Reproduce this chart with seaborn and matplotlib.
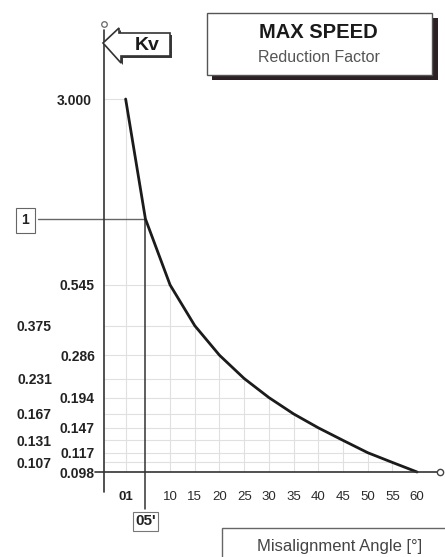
import numpy as np
import pandas as pd
import matplotlib
matplotlib.use("Agg")
import matplotlib.pyplot as plt
import seaborn as sns
from matplotlib.patches import Rectangle, Polygon
from matplotlib.ticker import NullLocator

# ---------------- data ----------------
angles = [1, 5, 10, 15, 20, 25, 30, 35, 40, 45, 50, 55, 60]
kv = [3.000, 1.000, 0.545, 0.375, 0.286, 0.231, 0.194, 0.167, 0.147, 0.131, 0.117, 0.107, 0.098]
x_tick_labels = ["01", "05'", "10", "15", "20", "25", "30", "35", "40", "45", "50", "55", "60"]
y_tick_labels = ["3.000", "1", "0.545", "0.375", "0.286", "0.231", "0.194", "0.167",
                 "0.147", "0.131", "0.117", "0.107", "0.098"]
ref_angle = 5
ref_kv = 1.0

title = "MAX SPEED"
subtitle = "Reduction Factor"
y_name = "Kv"
x_name = "Misalignment Angle [°]"

# ---------------- style ----------------
sns.set_style("white")
plt.rcParams["font.family"] = ["Liberation Sans", "DejaVu Sans"]

W, H = 445, 557
fig = plt.figure(figsize=(W / 100, H / 100), dpi=100)
fig.patch.set_facecolor("white")


def fx(px):
    return px / W


def fy(py):
    return 1 - py / H


ax_l, ax_r, ax_b, ax_t = 104, 440, 472, 30
ax = fig.add_axes([fx(ax_l), fy(ax_b), (ax_r - ax_l) / W, (ax_b - ax_t) / H])
ax.set_facecolor("none")
ax.set_yscale("log")
ax.set_xlim(-3.38, 64.64)
ax.set_ylim(0.098, 5.65)
for s in ax.spines.values():
    s.set_visible(False)

xl0, xl1 = ax.get_xlim()
yl0, yl1 = ax.get_ylim()
ax_w_px = ax_r - ax_l
ax_h_px = ax_b - ax_t

# faint drop grid under the curve
grid_col = "#e0e0e0"
ax.vlines([a for a in angles if a != ref_angle], yl0,
          [k for a, k in zip(angles, kv) if a != ref_angle],
          color=grid_col, lw=0.8, zorder=0)
ax.hlines([k for a, k in zip(angles, kv) if a != ref_angle], xl0,
          [a for a in angles if a != ref_angle],
          color=grid_col, lw=0.8, zorder=0)

# curve
df = pd.DataFrame({"angle": angles, "kv": kv})
sns.lineplot(data=df, x="angle", y="kv", ax=ax, color="#1b1b1b", lw=2.0,
             clip_on=False, zorder=5)

# reference lines at Kv = 1
x_left = xl0 - (ax_l - 38) / ax_w_px * (xl1 - xl0)
ax.plot([x_left, ref_angle], [ref_kv, ref_kv], color="#666666", lw=1.0,
        clip_on=False, zorder=4)
y_bottom = yl0 * (yl1 / yl0) ** (-(509 - ax_b) / ax_h_px)
ax.plot([ref_angle, ref_angle], [ref_kv, y_bottom], color="#333333", lw=1.1,
        clip_on=False, zorder=4)

# axis lines
ax.plot([-9 / ax_w_px, 1], [0, 0], transform=ax.transAxes, color="#333333",
        lw=1.2, clip_on=False, zorder=6)
ax.plot([0, 0], [-20 / ax_h_px, 1], transform=ax.transAxes, color="#333333",
        lw=1.2, clip_on=False, zorder=6)
ax.plot([1], [0], "o", transform=ax.transAxes, mfc="white", mec="#444444",
        ms=4.5, mew=1.0, clip_on=False, zorder=7)
ax.plot([0], [1 + 6 / ax_h_px], "o", transform=ax.transAxes, mfc="white",
        mec="#666666", ms=4, mew=0.9, clip_on=False, zorder=7)

# x ticks
ax.set_xticks(angles)
ax.set_xticklabels(x_tick_labels)
ax.tick_params(axis="x", length=0, pad=14, labelsize=9.5, labelcolor="#2a2a2a")
xt = ax.xaxis.get_major_ticks()
xt[0].label1.set_fontweight("bold")
xt[0].label1.set_fontsize(9.5)
xt[0].label1.set_color("#222222")
xt[1].set_pad(30.5)
xt[1].label1.set_fontweight("bold")
xt[1].label1.set_fontsize(11)
xt[1].label1.set_color("#222222")
xt[1].label1.set_bbox(dict(boxstyle="square,pad=0.15", fc="white",
                           ec="#777777", lw=0.8))

# y ticks
ax.set_yticks(kv)
ax.set_yticklabels(y_tick_labels)
ax.yaxis.set_minor_locator(NullLocator())
ax.tick_params(axis="y", which="both", length=0, labelsize=10,
               labelcolor="#222222")
yt = ax.yaxis.get_major_ticks()
for i, t in enumerate(yt):
    t.label1.set_fontweight("bold")
    if i == 0:
        t.set_pad(8.5)
    elif i == 1:
        t.set_pad(54)
        t.label1.set_bbox(dict(boxstyle="square,pad=0.4", fc="white",
                               ec="#666666", lw=0.8))
    elif i % 2 == 0:
        t.set_pad(6.5)
    else:
        t.set_pad(37.5)

ax.set_xlabel("")
ax.set_ylabel("")

# ---------------- title box ----------------
fig.add_artist(Rectangle((fx(212), fy(80)), 226 / W, 62 / H,
                         transform=fig.transFigure, fc="#2b2024", ec="none",
                         zorder=1))
fig.add_artist(Rectangle((fx(207), fy(75)), 225 / W, 62 / H,
                         transform=fig.transFigure, fc="white", ec="#555555",
                         lw=1.0, zorder=2))
fig.text(fx(318), fy(33), title, ha="center", va="center", fontsize=14.5,
         fontweight="bold", color="#1a1a1a", zorder=3)
fig.text(fx(319), fy(58), subtitle, ha="center", va="center", fontsize=11.5,
         color="#555555", zorder=3)

# ---------------- Kv arrow ----------------
arrow_pts = [(103, 43), (119, 28), (119, 33), (170, 33), (170, 56), (121, 56), (121, 63)]
shadow = Polygon([(fx(x + 2), fy(y + 2)) for x, y in arrow_pts], closed=True,
                 transform=fig.transFigure, fc="#3a3a3a", ec="none", zorder=1)
fig.add_artist(shadow)
arrow = Polygon([(fx(x), fy(y)) for x, y in arrow_pts], closed=True,
                transform=fig.transFigure, fc="white", ec="#333333", lw=1.2,
                zorder=2)
fig.add_artist(arrow)
fig.text(fx(147), fy(45), y_name, ha="center", va="center", fontsize=14,
         fontweight="bold", color="#1a1a1a", zorder=3)

# ---------------- x name box ----------------
fig.add_artist(Rectangle((fx(222), fy(565)), 240 / W, 37 / H,
                         transform=fig.transFigure, fc="white", ec="#666666",
                         lw=1.0, zorder=1))
fig.text(fx(257), fy(546), x_name, ha="left", va="center", fontsize=12,
         color="#444444", zorder=3)

fig.savefig("out.png", dpi=100, facecolor="white")
